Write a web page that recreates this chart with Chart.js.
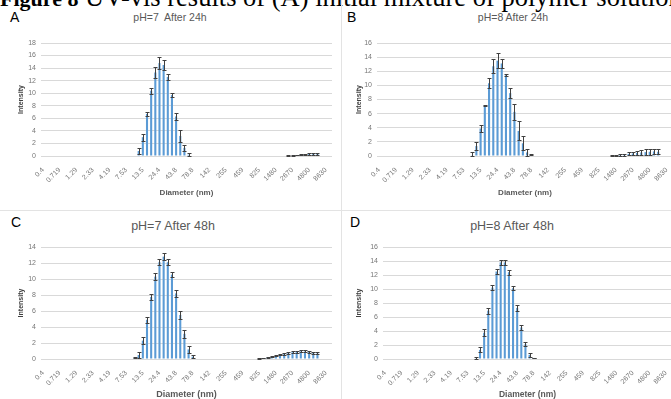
<!DOCTYPE html>
<html>
<head>
<meta charset="utf-8">
<script src="https://cdn.jsdelivr.net/npm/chart.js@4"></script>
<style>
body{margin:0;width:671px;height:399px;overflow:hidden;position:relative;background:#fff;font-family:"Liberation Sans",Arial,sans-serif}
canvas{position:absolute}
.cap{position:absolute;left:0;top:-16px;font:26.5px/26px "Liberation Serif",serif;white-space:nowrap;color:#000}
.cap b{font-size:22px}
.lbl{position:absolute;font-size:14px;color:#000}
.ttl{position:absolute;color:#595959;white-space:nowrap;transform:translate(-50%,-50%)}
.hl{position:absolute;left:0;top:210px;width:671px;height:1px;background:#e3e3e3}
.vl{position:absolute;left:341px;top:0;width:1px;height:399px;background:#e3e3e3}
</style>
</head>
<body>
<div class="cap"><b>Figure 8</b> UV-vis results of (A) initial mixture of polymer solution</div>
<div class="hl"></div>
<div class="vl"></div>
<div class="lbl" style="left:10px;top:9px">A</div>
<div class="lbl" style="left:347px;top:9px">B</div>
<div class="lbl" style="left:11px;top:214px">C</div>
<div class="lbl" style="left:350px;top:214px">D</div>
<div class="ttl" style="left:170px;top:17px;font-size:10.5px">pH=7&nbsp; After 24h</div>
<div class="ttl" style="left:513px;top:17px;font-size:10.5px">pH=8 After 24h</div>
<div class="ttl" style="left:173px;top:226px;font-size:12.5px">pH=7 After 48h</div>
<div class="ttl" style="left:512px;top:226px;font-size:12.5px">pH=8 After 48h</div>
<canvas id="cA" width="340" height="174" style="left:0;top:28px"></canvas>
<canvas id="cB" width="340" height="174" style="left:340px;top:28px"></canvas>
<canvas id="cC" width="340" height="172" style="left:0;top:232px"></canvas>
<canvas id="cD" width="340" height="172" style="left:340px;top:232px"></canvas>
<script>
// size bins (nm)
const diameters = ["0.4","0.463","0.536","0.621","0.719","0.833","0.965","1.12","1.29","1.5",
  "1.74","2.01","2.33","2.7","3.12","3.62","4.19","4.85","5.62","6.5",
  "7.53","8.72","10.1","11.7","13.5","15.7","18.2","21","24.4","28.2",
  "32.7","37.8","43.8","50.7","58.8","68.1","78.8","91.3","106","122",
  "142","164","190","220","255","295","342","396","459","531",
  "615","712","825","955","1110","1280","1480","1720","1990","2300",
  "2670","3090","3580","4150","4800","5560","6440","7460","8630","10000"];

// pH=7 after 24h
const ph7_24h = [0,0,0,0,0,0,0,0,0,0, 0,0,0,0,0,0,0,0,0,0,
  0,0,0,0.8,3.0,6.7,10.4,13.3,14.8,14.5, 12.6,9.7,6.3,3.2,1.3,0.2,0,0,0,0,
  0,0,0,0,0,0,0,0,0,0, 0,0,0,0,0,0,0,0,0,0.05,
  0.1,0.15,0.2,0.25,0.3,0.35,0.35,0,0,0];
const ph7_24h_err = [0,0,0,0,0,0,0,0,0,0, 0,0,0,0,0,0,0,0,0,0,
  0,0,0,0.55,0.55,0.3,0.45,0.95,0.95,0.8, 0.45,0.3,0.6,0.9,0.5,0.2,0,0,0,0,
  0,0,0,0,0,0,0,0,0,0, 0,0,0,0,0,0,0,0,0,0.03,
  0.05,0.05,0.08,0.1,0.15,0.15,0.15,0,0,0];

// pH=8 after 24h
const ph8_24h = [0,0,0,0,0,0,0,0,0,0, 0,0,0,0,0,0,0,0,0,0,
  0,0,0.1,1.4,3.9,7.2,10.3,12.7,13.5,13.1, 11.45,8.9,6.25,3.55,1.8,0.5,0.2,0,0,0,
  0,0,0,0,0,0,0,0,0,0, 0,0,0,0,0,0.05,0.1,0.15,0.2,0.3,
  0.35,0.45,0.5,0.55,0.6,0.65,0.6,0,0,0];
const ph8_24h_err = [0,0,0,0,0,0,0,0,0,0, 0,0,0,0,0,0,0,0,0,0,
  0,0,0.4,0.6,0.5,0.05,0.7,1.0,1.1,0.7, 0.15,0.7,1.15,1.35,1.0,0.55,0.1,0,0,0,
  0,0,0,0,0,0,0,0,0,0, 0,0,0,0,0,0.05,0.08,0.1,0.15,0.2,
  0.25,0.3,0.35,0.4,0.4,0.4,0.35,0,0,0];

// pH=7 after 48h
const ph7_48h = [0,0,0,0,0,0,0,0,0,0, 0,0,0,0,0,0,0,0,0,0,
  0,0,0.15,0.5,2.3,4.9,7.75,10.3,12.1,12.8, 12.1,10.55,8.2,5.5,3.15,1.2,0.3,0,0,0,
  0,0,0,0,0,0,0,0,0,0, 0,0,0.08,0.12,0.2,0.3,0.4,0.55,0.65,0.75,
  0.85,0.9,0.95,0.95,0.9,0.8,0.7,0,0,0];
const ph7_48h_err = [0,0,0,0,0,0,0,0,0,0, 0,0,0,0,0,0,0,0,0,0,
  0,0,0.05,0.35,0.45,0.35,0.35,0.4,0.4,0.45, 0.4,0.35,0.4,0.45,0.5,0.4,0.15,0,0,0,
  0,0,0,0,0,0,0,0,0,0, 0,0,0.02,0.03,0.05,0.06,0.08,0.1,0.12,0.12,
  0.13,0.13,0.12,0.12,0.12,0.12,0.12,0,0,0];

// pH=8 after 48h
const ph8_48h = [0,0,0,0,0,0,0,0,0,0, 0,0,0,0,0,0,0,0,0,0,
  0,0,0.1,1.3,3.75,6.9,10.2,12.5,13.8,13.8, 12.4,10.1,7.3,4.5,2.1,0.6,0.15,0,0,0,
  0,0,0,0,0,0,0,0,0,0, 0,0,0,0,0,0,0,0,0,0,
  0,0,0,0,0,0,0,0,0,0];
const ph8_48h_err = [0,0,0,0,0,0,0,0,0,0, 0,0,0,0,0,0,0,0,0,0,
  0,0,0.15,0.35,0.5,0.4,0.35,0.4,0.3,0.3, 0.35,0.3,0.4,0.4,0.3,0.3,0.05,0,0,0,
  0,0,0,0,0,0,0,0,0,0, 0,0,0,0,0,0,0,0,0,0,
  0,0,0,0,0,0,0,0,0,0];

Chart.defaults.font.family = '"Liberation Sans", Arial, sans-serif';

// draws the +/- error whiskers on top of the bars
const errorBars = {
  id: 'errorBars',
  afterDatasetsDraw(chart) {
    const ctx = chart.ctx, y = chart.scales.y;
    const ds = chart.data.datasets[0];
    const meta = chart.getDatasetMeta(0);
    ctx.save();
    ctx.strokeStyle = '#404040';
    ctx.lineWidth = 1;
    meta.data.forEach((bar, i) => {
      const v = ds.data[i], e = ds.errors[i];
      if (!v && !e) return;
      const x = Math.round(bar.x) + 0.5;
      const top = Math.round(y.getPixelForValue(v + e)) + 0.5;
      const bot = Math.round(y.getPixelForValue(Math.max(0, v - e))) + 0.5;
      ctx.beginPath();
      ctx.moveTo(x, top); ctx.lineTo(x, bot);
      ctx.moveTo(x - 2, top); ctx.lineTo(x + 2, top);
      ctx.moveTo(x - 2, bot); ctx.lineTo(x + 2, bot);
      ctx.stroke();
    });
    ctx.restore();
  }
};

function makeChart(id, values, errors, yMax, pad, yWidth, xHeight, xTitleSize) {
  return new Chart(document.getElementById(id), {
    type: 'bar',
    data: {
      labels: diameters,
      datasets: [{
        data: values,
        errors: errors,
        backgroundColor: '#5b9bd5',
        barPercentage: 0.5,
        categoryPercentage: 1
      }]
    },
    options: {
      responsive: false,
      animation: false,
      layout: { padding: pad },
      plugins: { legend: { display: false }, tooltip: { enabled: false } },
      scales: {
        x: {
          grid: { display: false },
          border: { display: false },
          ticks: {
            autoSkip: false, maxRotation: 45, minRotation: 45, padding: 2,
            font: { size: 7 }, color: '#777',
            callback: (v, i) => i % 4 === 0 ? diameters[i] : ''
          },
          title: { display: true, text: 'Diameter (nm)', color: '#595959',
                   font: { size: xTitleSize, weight: 'bold' } },
          afterFit: s => { s.height = xHeight; }
        },
        y: {
          min: 0, max: yMax,
          grid: { color: '#d9d9d9', drawTicks: false },
          border: { display: false },
          ticks: { stepSize: 2, padding: 5, font: { size: 7 }, color: '#777' },
          title: { display: true, text: 'Intensity', color: '#404040',
                   font: { size: 7, weight: 'bold' } },
          afterFit: s => { s.width = yWidth; }
        }
      }
    },
    plugins: [errorBars]
  });
}

makeChart('cA', ph7_24h, ph7_24h_err, 18, {left: 13, right: 8, top: 15, bottom: 0}, 28, 46, 8);
makeChart('cB', ph8_24h, ph8_24h_err, 16, {left: 11, right: 7, top: 15, bottom: 0}, 26, 46, 8);
makeChart('cC', ph7_48h, ph7_48h_err, 14, {left: 13, right: 8, top: 15, bottom: 0}, 28, 45, 9);
makeChart('cD', ph8_48h, ph8_48h_err, 16, {left: 11, right: 8, top: 15, bottom: 0}, 32, 45, 8.5);
</script>
</body>
</html>
